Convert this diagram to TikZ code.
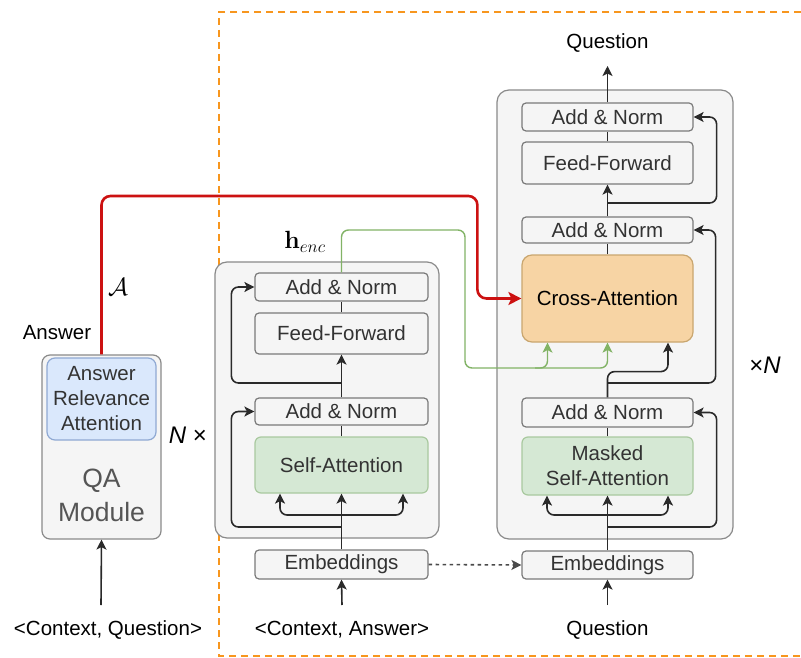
\documentclass[tikz,border=0pt]{standalone}
\usepackage[no-math]{fontspec}
\setmainfont{Liberation Sans}
\usetikzlibrary{arrows.meta,calc}
\definecolor{boxfill}{HTML}{F5F5F5}
\definecolor{contfill}{HTML}{F5F5F5}
\definecolor{bord}{HTML}{7A7A7A}
\definecolor{contbord}{HTML}{8A8A8A}
\definecolor{txt}{HTML}{333333}
\definecolor{qatxt}{HTML}{555555}
\definecolor{gfill}{HTML}{D5E8D4}
\definecolor{gbord}{HTML}{A9C99F}
\definecolor{bfill}{HTML}{DAE8FC}
\definecolor{bbord}{HTML}{8FA9D3}
\definecolor{ofill}{HTML}{F7D4A4}
\definecolor{obord}{HTML}{C9A66F}
\definecolor{conn}{HTML}{2A2A2A}
\definecolor{redc}{HTML}{CC1111}
\definecolor{greenc}{HTML}{82B366}
\definecolor{orangec}{HTML}{F7961E}
\tikzset{
  base/.style={font=\fontsize{20.5}{25}\selectfont, text=txt},
  blk/.style={base, draw=bord, fill=boxfill, line width=1.2pt, rounded corners=4pt, inner sep=0pt, align=center},
  grnbox/.style={blk, fill=gfill, draw=gbord, rounded corners=6pt},
  blubox/.style={blk, fill=bfill, draw=bbord, rounded corners=8pt},
  orabox/.style={blk, fill=ofill, draw=obord, rounded corners=10pt, text=black},
  cont/.style={draw=contbord, fill=contfill, line width=1.2pt, rounded corners=12pt},
  ln/.style={draw=conn, line width=1.6pt},
  arr/.style={ln, -{Stealth[length=10pt,width=10pt,inset=2.5pt]}},
  rc/.style={rounded corners=7pt},
  garr/.style={draw=greenc, line width=1.4pt, rounded corners=7pt, -{Stealth[length=10pt,width=10pt,inset=2.5pt]}},
  rarr/.style={draw=redc, line width=2.6pt, rounded corners=9pt, -{Stealth[length=13pt,width=13pt,inset=3pt]}},
  dotarr/.style={draw=conn!85, line width=1.6pt, dash pattern=on 3.5pt off 3.5pt, -{Stealth[length=10pt,width=10pt,inset=2.5pt]}},
  bigital/.style={font=\fontsize{24}{28}\selectfont, text=black},
}
\begin{document}
\begin{tikzpicture}[x=1pt,y=-1pt]
\useasboundingbox (0,0) rectangle (801,658);
\fill[white] (0,0) rectangle (801,658);

% orange dashed region
\draw[orangec, line width=1.6pt, dash pattern=on 7pt off 5pt] (801,12) -- (219,12) -- (219,656) -- (801,656);

% containers
\node[cont, minimum width=224pt, minimum height=276pt] (enc) at (327,400) {};
\node[cont, minimum width=236pt, minimum height=449pt] (dec) at (615,314.5) {};
\node[cont, rounded corners=8pt, minimum width=119pt, minimum height=184pt] (qa) at (101.5,447) {};

% QA module
\node[blubox, minimum width=109pt, minimum height=82pt] (ara) at (101.5,399) {Answer\\Relevance\\Attention};
\node[font=\fontsize{26.5}{34}\selectfont, text=qatxt, align=center] (qalbl) at (101.5,495) {QA\\Module};

% encoder
\node[blk, minimum width=173pt, minimum height=28pt] (eAN2) at (341.5,287) {Add \& Norm};
\node[blk, minimum width=173pt, minimum height=41pt] (eFF) at (341.5,333.5) {Feed-Forward};
\node[blk, minimum width=173pt, minimum height=27pt] (eAN1) at (341.5,411.5) {Add \& Norm};
\node[grnbox, minimum width=173pt, minimum height=56pt] (eSA) at (341.5,465) {Self-Attention};
\node[blk, minimum width=173pt, minimum height=29pt] (eEmb) at (341.5,564.5) {Embeddings};

% decoder
\node[blk, minimum width=171pt, minimum height=28pt] (dAN3) at (607.5,117) {Add \& Norm};
\node[blk, minimum width=171pt, minimum height=42pt] (dFF) at (607.5,163) {Feed-Forward};
\node[blk, minimum width=171pt, minimum height=26pt] (dAN2) at (607.5,230) {Add \& Norm};
\node[orabox, minimum width=171pt, minimum height=87pt] (dCA) at (607.5,298.5) {Cross-Attention};
\node[blk, minimum width=171pt, minimum height=29pt] (dAN1) at (607.5,412.5) {Add \& Norm};
\node[grnbox, minimum width=171pt, minimum height=58pt] (dMSA) at (607.5,466) {Masked\\Self-Attention};
\node[blk, minimum width=171pt, minimum height=28pt] (dEmb) at (607.5,565) {Embeddings};

% labels
\node[base, text=black] (qtop) at (607.5,43) {Question};
\node[base, text=black] (qbot) at (607.5,630) {Question};
\node[base, text=black] (ca) at (342,630) {<Context, Answer>};
\node[base, text=black] (cq) at (108,630) {<Context, Question>};
\node[base, text=black] (ans) at (57,333) {Answer};
\node[font=\fontsize{24}{28}\selectfont] (alab) at (118,287) {$\mathcal{A}$};
\node[font=\fontsize{25}{28}\selectfont] (henc) at (305,242) {$\mathbf{h}_{enc}$};
\node[bigital] (nx) at (188,435) {\textit{N} ×};
\node[bigital] (xn) at (765,365) {×\textit{N}};

% encoder connectors
\coordinate (ej1) at (341.5,515);
\coordinate (ej2) at (341.5,527);
\coordinate (ej3) at (341.5,383);
\draw[arr] (eEmb.north) -- (eSA.south);
\draw[arr, rc] (ej1) -| ($(eSA.south)+(-61.5,0)$);
\draw[arr, rc] (ej1) -| ($(eSA.south)+(61.5,0)$);
\draw[arr, rc] (ej2) -| ($(eAN1.west)+(-23,0)$) -- (eAN1.west);
\draw[ln] (eSA.north) -- (eAN1.south);
\draw[arr] (eAN1.north) -- (eFF.south);
\draw[arr, rc] (ej3) -| ($(eAN2.west)+(-23,0)$) -- (eAN2.west);
\draw[ln] (eFF.north) -- (eAN2.south);

% decoder connectors
\coordinate (dj1) at (607.5,515);
\coordinate (dj2) at (607.5,527);
\coordinate (dj3) at (607.5,383);
\coordinate (dj4) at (607.5,203);
\draw[arr] (dEmb.north) -- (dMSA.south);
\draw[arr, rc] (dj1) -| ($(dMSA.south)+(-60.5,0)$);
\draw[arr, rc] (dj1) -| ($(dMSA.south)+(60.5,0)$);
\draw[arr, rc] (dj2) -| ($(dAN1.east)+(23,0)$) -- (dAN1.east);
\draw[ln] (dMSA.north) -- (dAN1.south);
\draw[arr, rc] (dAN1.north) |- ($(dCA.south)+(60.5,29)$) -- ($(dCA.south)+(60.5,0)$);
\draw[arr, rc] (dj3) -| ($(dAN2.east)+(22,0)$) -- (dAN2.east);
\draw[ln] (dCA.north) -- (dAN2.south);
\draw[arr] (dAN2.north) -- (dFF.south);
\draw[arr, rc] (dj4) -| ($(dAN3.east)+(23,0)$) -- (dAN3.east);
\draw[ln] (dFF.north) -- (dAN3.south);
\draw[arr] (dAN3.north) -- ($(qtop.center)+(0,23)$);
\draw[arr] ($(qbot.center)+(0,-25)$) -- (dEmb.south);
\draw[arr] ($(ca.center)+(0,-25)$) -- (eEmb.south);
\draw[arr] ($(cq.center)+(-7,-25)$) -- (qa.south);

% dotted
\draw[dotarr] (eEmb.east) -- (dEmb.west);

% green h_enc connectors
\coordinate (g1) at (465,230);
\coordinate (g2) at (465,368);
\draw[garr] (eAN2.north) |- (g1) -- (g2) -| ($(dCA.south)+(-60,0)$);
\draw[garr] ($(g2)+(70,0)$) -| (dCA.south);

% red answer connector
\draw[rarr] (qa.north) |- ($(dCA.west)+(-44,-102.5)$) |- (dCA.west);
\end{tikzpicture}
\end{document}
